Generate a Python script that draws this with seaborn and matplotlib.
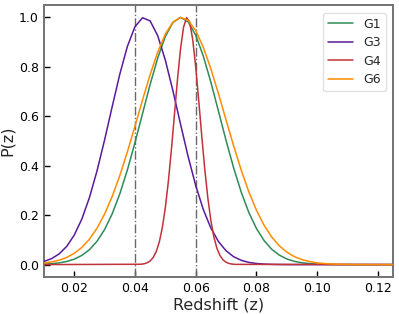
import matplotlib
matplotlib.use("Agg")
import matplotlib.pyplot as plt
import pandas as pd
import seaborn as sns

# redshift grid shared by the broad curves
z_broad = [0.0100, 0.0125, 0.0150, 0.0175, 0.0200, 0.0225, 0.0250, 0.0275, 0.0300, 0.0325,
           0.0350, 0.0375, 0.0400, 0.0425, 0.0450, 0.0475, 0.0500, 0.0525, 0.0550, 0.0575,
           0.0600, 0.0625, 0.0650, 0.0675, 0.0700, 0.0725, 0.0750, 0.0775, 0.0800, 0.0825,
           0.0850, 0.0875, 0.0900, 0.0925, 0.0950, 0.0975, 0.1000, 0.1025, 0.1050, 0.1075,
           0.1100, 0.1125, 0.1150, 0.1175, 0.1200, 0.1225, 0.1250]

p_g1 = [0.0018, 0.0036, 0.0068, 0.0125, 0.0219, 0.0371, 0.0603, 0.0943, 0.1419, 0.2053,
        0.2858, 0.3828, 0.4932, 0.6113, 0.7289, 0.8360, 0.9226, 0.9793, 1.0000, 0.9823,
        0.9283, 0.8438, 0.7380, 0.6209, 0.5025, 0.3912, 0.2930, 0.2111, 0.1463, 0.0976,
        0.0626, 0.0386, 0.0229, 0.0131, 0.0072, 0.0038, 0.0019, 0.0009, 0.0004, 0.0002,
        0.0001, 0.0, 0.0, 0.0, 0.0, 0.0, 0.0]

p_g3 = [0.0127, 0.0239, 0.0430, 0.0734, 0.1192, 0.1842, 0.2709, 0.3791, 0.5045, 0.6389,
        0.7700, 0.8825, 0.9624, 0.9986, 0.9857, 0.9257, 0.8271, 0.7032, 0.5686, 0.4376,
        0.3203, 0.2231, 0.1478, 0.0932, 0.0559, 0.0319, 0.0173, 0.0089, 0.0044, 0.0021,
        0.0009, 0.0004, 0.0001, 0.0, 0.0, 0.0, 0.0, 0.0, 0.0, 0.0,
        0.0, 0.0, 0.0, 0.0, 0.0, 0.0, 0.0]

p_g6 = [0.0062, 0.0107, 0.0178, 0.0289, 0.0455, 0.0694, 0.1027, 0.1471, 0.2045, 0.2756,
        0.3599, 0.4558, 0.5596, 0.6661, 0.7687, 0.8600, 0.9327, 0.9807, 0.9998, 0.9881,
        0.9467, 0.8794, 0.7919, 0.6914, 0.5852, 0.4802, 0.3820, 0.2946, 0.2203, 0.1597,
        0.1122, 0.0765, 0.0505, 0.0323, 0.0201, 0.0121, 0.0071, 0.0040, 0.0022, 0.0012,
        0.0006, 0.0003, 0.0001, 0.0, 0.0, 0.0, 0.0]

# G4 is narrow, so it gets a finer grid
z_g4 = [0.010, 0.042, 0.043, 0.044, 0.045, 0.046, 0.047, 0.048, 0.049, 0.050,
        0.051, 0.052, 0.053, 0.054, 0.055, 0.056, 0.057, 0.058, 0.059, 0.060,
        0.061, 0.062, 0.063, 0.064, 0.065, 0.066, 0.067, 0.068, 0.069, 0.070,
        0.071, 0.072, 0.073, 0.125]
p_g4 = [0.0, 0.0014, 0.0033, 0.0072, 0.0147, 0.0286, 0.0524, 0.0908, 0.1487, 0.2301,
        0.3364, 0.4647, 0.6065, 0.7481, 0.8718, 0.9600, 0.9989, 0.9820, 0.9123, 0.8007,
        0.6641, 0.5204, 0.3854, 0.2696, 0.1783, 0.1114, 0.0657, 0.0367, 0.0193, 0.0096,
        0.0045, 0.0020, 0.0008, 0.0]

z_marks = [0.04, 0.06]
groups = ["G1", "G3", "G4", "G6"]
colors = {"G1": "seagreen", "G3": "#5a1a9c", "G4": "#c0333a", "G6": "darkorange"}

df = pd.concat([
    pd.DataFrame({"z": z_broad, "P": p_g1, "group": "G1"}),
    pd.DataFrame({"z": z_broad, "P": p_g3, "group": "G3"}),
    pd.DataFrame({"z": z_g4, "P": p_g4, "group": "G4"}),
    pd.DataFrame({"z": z_broad, "P": p_g6, "group": "G6"}),
], ignore_index=True)

sns.set_style("ticks")
plt.rcParams['font.family'] = ['DejaVu Sans']

fig = plt.figure(figsize=(3.99, 3.14), dpi=100)
ax = fig.add_axes([0.110, 0.118, 0.875, 0.866])

for zm in z_marks:
    ax.axvline(zm, color="dimgray", linestyle="-.", linewidth=1.0, zorder=1)

sns.lineplot(data=df, x="z", y="P", hue="group", hue_order=groups, palette=colors,
             linewidth=1.1, ax=ax, zorder=3)

ax.set_xlim(0.01, 0.125)
ax.set_ylim(-0.05, 1.05)
ax.set_xticks([0.02, 0.04, 0.06, 0.08, 0.10, 0.12])
ax.set_yticks([0.0, 0.2, 0.4, 0.6, 0.8, 1.0])
ax.set_xlabel("Redshift (z)", fontsize=11.5, labelpad=2)
ax.set_ylabel("P(z)", fontsize=11.5, labelpad=3)
ax.tick_params(direction="in", length=4, width=1, labelsize=9, colors="black")
for sp in ax.spines.values():
    sp.set_color("0.45")
    sp.set_linewidth(1.4)

leg = ax.legend(loc="upper right", fontsize=9, frameon=True, handlelength=2.0,
                borderaxespad=0.6, labelspacing=0.45)
leg.get_frame().set_edgecolor("0.85")

fig.savefig("out.png", dpi=100)
